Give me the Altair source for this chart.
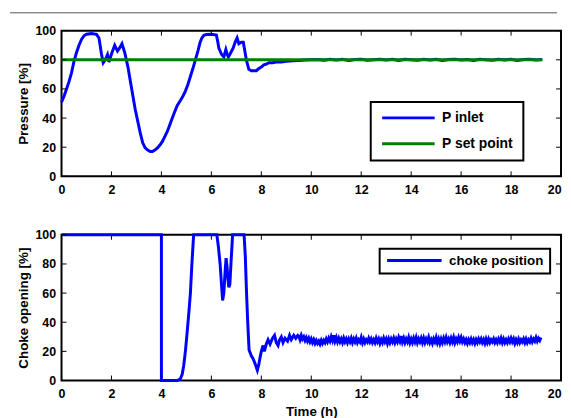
import altair as alt
import pandas as pd

# ---------------- data ----------------
x_ticks = [0, 2, 4, 6, 8, 10, 12, 14, 16, 18, 20]
y_ticks = [0, 20, 40, 60, 80, 100]

p_time = [0, 0.1, 0.2, 0.3, 0.4, 0.5, 0.6, 0.7, 0.8, 0.9, 1.0, 1.2, 1.4, 1.5, 1.6, 1.67,
          1.75, 1.84, 1.9, 2.0, 2.13, 2.24, 2.32, 2.42, 2.53, 2.66, 2.76, 2.86, 2.95, 3.05,
          3.15, 3.25, 3.35, 3.45, 3.55, 3.64, 3.74, 3.84, 3.94, 4.04, 4.14, 4.24, 4.37, 4.5,
          4.63, 4.76, 4.86, 4.96, 5.06, 5.16, 5.26, 5.36, 5.46, 5.55, 5.62, 5.7, 5.8, 6.0,
          6.2, 6.25, 6.3, 6.4, 6.5, 6.58, 6.63, 6.68, 6.75, 6.87, 6.95, 7.03, 7.1, 7.2, 7.28,
          7.34, 7.4, 7.5, 7.6, 7.7, 7.8, 7.9, 8.0, 8.1, 8.2, 8.3, 8.45, 8.6, 8.8, 9.0, 9.25,
          9.5, 9.75, 10.0]
p_inlet = [51, 55, 60, 65, 71, 79, 85, 90, 94, 96.5, 97.5, 98, 97.5, 95, 84, 78,
           80, 83.5, 78.5, 84, 90, 86, 88, 91, 85, 75, 65, 55, 46, 38,
           30, 23, 19.5, 18, 17, 17, 18, 19.5, 21.5, 24, 27.5, 31, 37, 43,
           48.5, 52, 55, 58.5, 63, 68.5, 74, 80, 86, 92, 95, 96.8, 97.3, 97.5,
           97, 93, 88, 84, 82, 87, 84, 82, 84, 88, 92, 95, 91, 92, 92,
           86, 80, 73.5, 72.5, 72.5, 72.5, 74, 75, 76.5, 77, 78, 78, 78.5, 78.5, 79, 79.3,
           79.5, 79.8, 80]
# steady part, sampled every 0.25 h from 10.25 h
p_inlet_steady = [80.2, 79.7, 80.4, 79.9, 80.3, 79.6, 80.2, 80.4, 79.7, 80.1,
                  80.4, 79.8, 80.3, 79.6, 80.4, 80.1, 79.7, 80.3, 79.9, 80.4,
                  79.6, 80.2, 80.4, 79.8, 80.2, 79.6, 80.4, 80.1, 79.7, 80.3,
                  79.9, 80.4, 79.6, 80.2, 80.4, 79.8, 80.2]
p_set_time = [0, 19.25]
p_set = [80, 80]

c_time = [0, 4.0, 4.0, 4.63, 4.75, 4.83, 4.89, 4.96, 5.03, 5.1, 5.16, 5.22, 5.29, 6.22,
          6.28, 6.35, 6.41, 6.45, 6.5, 6.55, 6.59, 6.63, 6.66, 6.7, 6.74, 6.79, 6.85, 7.31,
          7.36, 7.4, 7.45, 7.51, 7.6, 7.67, 7.74, 7.8, 7.84, 7.9, 7.94, 8.0, 8.07, 8.12,
          8.2, 8.27, 8.35, 8.45, 8.53, 8.6, 8.67, 8.73, 8.8, 8.87, 8.95, 9.05, 9.13, 9.2,
          9.3, 9.38, 9.46]
choke = [100, 100, 0, 0, 1, 4, 10, 20, 33, 47, 60, 80, 100, 100,
         92, 80, 65, 55, 60, 75, 84, 78, 70, 64, 66, 82, 100, 100,
         85, 64, 42, 21, 17, 15, 12, 9, 7, 11, 15, 20, 24, 20,
         25, 28, 25, 29, 31, 26, 24, 28, 30, 26, 29, 27, 31, 28,
         31, 29, 31]
# steady part, sampled every 0.05 h from 9.5 h
choke_steady = [
    30.5, 28.0, 31.0, 28.5, 30.0, 27.5, 29.5, 27.0, 29.0, 26.5, 28.5, 26.0, 28.0, 25.5, 27.5, 25.5, 27.0, 25.0, 27.5, 25.5,
    27.5, 26.0, 28.5, 26.5, 29.0, 27.0, 30.0, 27.5, 31.0, 27.0, 29.5, 26.5, 29.0, 26.5, 28.5, 26.0, 29.0, 26.5, 28.5, 26.0,
    28.5, 26.5, 29.0, 26.0, 28.5, 26.5, 29.0, 26.0, 28.0, 26.5, 29.5, 26.0, 28.5, 26.0, 28.0, 26.5, 29.0, 26.5, 28.5, 26.0,
    28.0, 26.0, 29.0, 26.5, 28.5, 25.5, 28.0, 26.0, 29.0, 26.5, 28.5, 25.5, 28.5, 26.0, 28.5, 26.5, 29.0, 26.0, 28.5, 26.5,
    29.5, 27.0, 30.5, 26.5, 29.0, 26.0, 28.5, 26.5, 29.5, 26.0, 28.5, 26.0, 29.0, 26.5, 29.5, 26.0, 28.5, 26.5, 29.0, 26.0,
    29.0, 26.0, 28.5, 26.5, 29.5, 26.0, 28.0, 25.5, 28.5, 26.5, 29.5, 26.0, 28.5, 25.5, 28.5, 26.0, 29.0, 26.5, 29.5, 26.5,
    28.5, 26.0, 29.0, 26.5, 29.5, 26.0, 28.5, 26.5, 29.5, 27.0, 29.5, 26.5, 28.5, 26.0, 28.0, 25.5, 28.0, 26.0, 28.5, 26.0,
    28.0, 25.5, 28.0, 26.0, 28.5, 26.5, 28.5, 26.0, 28.0, 25.5, 28.5, 26.0, 28.5, 26.0, 28.0, 26.5, 28.5, 26.0, 28.0, 26.0,
    28.5, 26.5, 29.0, 26.0, 28.5, 26.0, 28.0, 26.0, 28.5, 26.5, 29.0, 26.5, 28.5, 25.5, 28.0, 26.0, 28.5, 26.0, 28.0, 26.5,
    28.5, 26.0, 28.5, 26.0, 28.0, 26.5, 29.0, 26.5, 28.5, 27.0, 29.5, 27.0, 29.0, 27.5, 29.5]

series_p = ["P inlet", "P set point"]
series_c = ["choke position"]
colors_p = ["#0000ff", "#008000"]
colors_c = ["#0000ff"]

# ---------------- tables ----------------
p_steady_time = [round(10.25 + 0.25 * i, 3) for i in range(len(p_inlet_steady))]
c_steady_time = [round(9.5 + 0.05 * i, 3) for i in range(len(choke_steady))]

pt = p_time + p_steady_time
pv = p_inlet + p_inlet_steady
df_p = pd.DataFrame({
    "t": pt + p_set_time,
    "v": pv + p_set,
    "series": [series_p[0]] * len(pt) + [series_p[1]] * len(p_set_time),
    "i": list(range(len(pt))) + list(range(len(p_set_time))),
})
ct = c_time + c_steady_time
cv = choke + choke_steady
df_c = pd.DataFrame({"t": ct, "v": cv, "series": series_c[0], "i": list(range(len(ct)))})

W, H = 504, 147
FONT = "Liberation Sans"
xscale = alt.Scale(domain=[0, 20], nice=False, zero=False)
yscale = alt.Scale(domain=[0, 100], nice=False)


def xaxis(title):
    return alt.Axis(title=title, values=x_ticks, ticks=False, domain=False, grid=False,
                    labelFont=FONT, labelFontSize=12.5, labelFontWeight="bold",
                    labelColor="black", labelPadding=7,
                    labelAlign={"condition": {"test": "datum.value === 20", "value": "right"},
                                "value": "center"},
                    titleFont=FONT, titleFontSize=13.5, titleFontWeight="bold",
                    titleColor="black", titlePadding=5)


def yaxis(title):
    return alt.Axis(title=title, values=y_ticks, ticks=False, domain=False, grid=False,
                    labelFont=FONT, labelFontSize=12.5, labelFontWeight="bold",
                    labelColor="black", labelPadding=6, titleFont=FONT, titleFontSize=13.5,
                    titleFontWeight="bold", titleColor="black", titlePadding=4)


def tick_layers(xa, ya):
    xt = alt.Chart(pd.DataFrame({"t": x_ticks}))
    yt = alt.Chart(pd.DataFrame({"v": y_ticks}))
    tb = xt.mark_rule(color="black", strokeWidth=1).encode(
        x=alt.X("t:Q", scale=xscale, axis=xa), y=alt.value(H), y2=alt.value(H - 5))
    tt = xt.mark_rule(color="black", strokeWidth=1).encode(
        x=alt.X("t:Q", scale=xscale, axis=xa), y=alt.value(0), y2=alt.value(5))
    tl = yt.mark_rule(color="black", strokeWidth=1).encode(
        y=alt.Y("v:Q", scale=yscale, axis=ya), x=alt.value(0), x2=alt.value(5))
    tr = yt.mark_rule(color="black", strokeWidth=1).encode(
        y=alt.Y("v:Q", scale=yscale, axis=ya), x=alt.value(W), x2=alt.value(W - 5))
    return [tb, tt, tl, tr]


xa_top, ya_top = xaxis(None), yaxis("Pressure [%]")
xa_bot, ya_bot = xaxis("Time (h)"), yaxis("Choke opening [%]")

p_lines = alt.Chart(df_p).mark_line(strokeWidth=3).encode(
    x=alt.X("t:Q", scale=xscale, axis=xa_top),
    y=alt.Y("v:Q", scale=yscale, axis=ya_top),
    color=alt.Color("series:N", scale=alt.Scale(domain=series_p, range=colors_p),
                    legend=alt.Legend(title=None, orient="none", legendX=312, legendY=72,
                                      symbolType="stroke", symbolSize=2809,
                                      symbolStrokeWidth=3, clipHeight=12, rowPadding=12,
                                      labelFont=FONT, labelFontSize=14,
                                      labelFontWeight="bold", labelColor="black",
                                      labelOffset=6, padding=10, strokeColor="black",
                                      fillColor="white")),
    order="i:Q",
)
header = alt.Chart(pd.DataFrame({"a": [0]})).mark_rule(color="#555555", strokeWidth=1).encode(
    x=alt.value(-52), x2=alt.value(W - 4), y=alt.value(-18))

top = alt.layer(header, p_lines, *tick_layers(xa_top, ya_top)).properties(width=W, height=H)

c_lines = alt.Chart(df_c).mark_line(strokeWidth=3).encode(
    x=alt.X("t:Q", scale=xscale, axis=xa_bot),
    y=alt.Y("v:Q", scale=yscale, axis=ya_bot),
    color=alt.Color("series:N", scale=alt.Scale(domain=series_c, range=colors_c),
                    legend=alt.Legend(title=None, orient="none", legendX=321, legendY=14,
                                      symbolType="stroke", symbolSize=3025,
                                      symbolStrokeWidth=3, clipHeight=12,
                                      labelFont=FONT, labelFontSize=13.5,
                                      labelFontWeight="bold", labelColor="black",
                                      labelOffset=6, padding=6, strokeColor="black",
                                      fillColor="white")),
    order="i:Q",
)
bottom = alt.layer(c_lines, *tick_layers(xa_bot, ya_bot)).properties(width=W, height=H)

chart = alt.vconcat(top, bottom, spacing=31).resolve_scale(color="independent").properties(
    padding={"left": 0, "top": 1, "right": 0, "bottom": 0}
).configure_view(stroke="black", strokeWidth=2).configure_legend(strokeWidth=2)

chart.save("out.html", embed_options={"renderer": "svg", "actions": False})
